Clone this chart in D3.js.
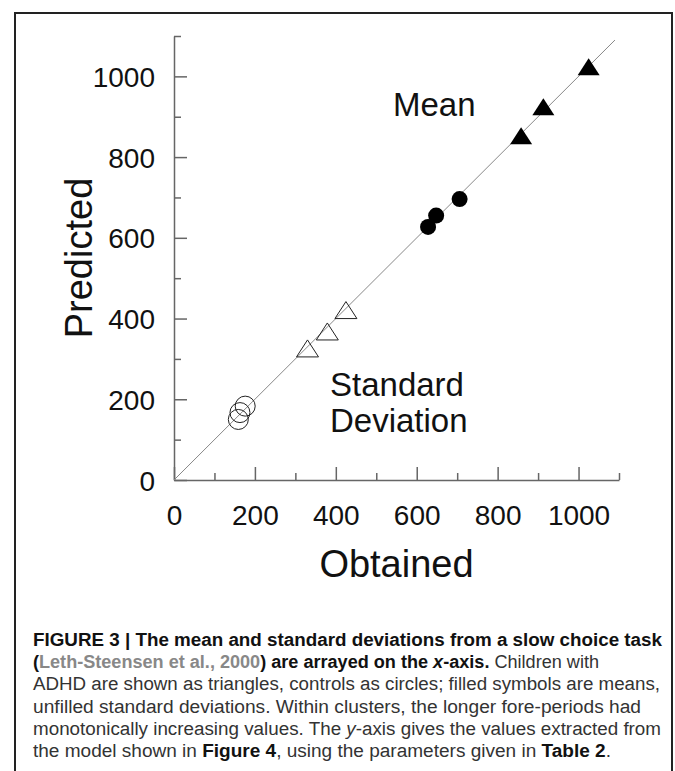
<!DOCTYPE html>
<html>
<head>
<meta charset="utf-8">
<script src="https://cdn.jsdelivr.net/npm/d3@7"></script>
<style>
  body { margin: 0; background: #fff; }
  svg { display: block; }
  .axis path, .axis line { stroke: #666; stroke-width: 1.5; }
  .axis text { font-family: "Liberation Sans", Arial, Helvetica, sans-serif; font-size: 28px; fill: #111; }
</style>
</head>
<body>
<script>
// values (ms)
var meanAdhdObt = [858, 913, 1025];
var meanAdhdPred = [853, 925, 1024];
var meanCtrlObt = [628, 648, 706];
var meanCtrlPred = [627, 655, 696];
var sdAdhdObt = [330, 379, 425];
var sdAdhdPred = [326, 368, 421];
var sdCtrlObt = [159, 163, 176];
var sdCtrlPred = [150, 167, 183];

var tickVals = d3.range(0, 1101, 100);
var idLine = [0, 1090];

var captionLines = [
  [["b", "FIGURE 3 | The mean and standard deviations from a slow choice task"]],
  [["b", "("], ["g", "Leth-Steensen et al., 2000"], ["b", ") are arrayed on the "], ["bi", "x"], ["b", "-axis."], ["n", " Children with"]],
  [["n", "ADHD are shown as triangles, controls as circles; filled symbols are means,"]],
  [["n", "unfilled standard deviations. Within clusters, the longer fore-periods had"]],
  [["n", "monotonically increasing values. The "], ["i", "y"], ["n", "-axis gives the values extracted from"]],
  [["n", "the model shown in "], ["b", "Figure 4"], ["n", ", using the parameters given in "], ["b", "Table 2"], ["n", "."]]
];
var captionWidths = [629, 566, 627, 608, 628, 578];

var W = 675, H = 771;
var svg = d3.select("body").append("svg").attr("width", W).attr("height", H);

// frame
svg.append("path")
  .attr("d", "M15," + H + "V13H672V" + H)
  .attr("fill", "none").attr("stroke", "#222").attr("stroke-width", 2);

var x = d3.scaleLinear().domain([0, 1100]).range([174, 619]);
var y = d3.scaleLinear().domain([0, 1100]).range([480, 36]);

function fmt(d) { return d % 200 == 0 ? d : ""; }

var gx = svg.append("g").attr("class", "axis").attr("transform", "translate(0,480)")
  .call(d3.axisBottom(x).tickValues(tickVals).tickSize(-13).tickSizeOuter(0).tickPadding(25).tickFormat(fmt));
gx.selectAll(".tick line").attr("y2", function(d) { return d % 200 == 0 ? -13 : -7; });

var gy = svg.append("g").attr("class", "axis").attr("transform", "translate(174,0)")
  .call(d3.axisLeft(y).tickValues(tickVals).tickSize(-13).tickSizeOuter(0).tickPadding(19).tickFormat(fmt));
gy.selectAll(".tick line").attr("x2", function(d) { return d % 200 == 0 ? 13 : 7; });
gy.selectAll(".tick text").attr("dy", "0.36em");

// identity line
svg.append("line")
  .attr("x1", x(idLine[0])).attr("y1", y(idLine[0]))
  .attr("x2", x(idLine[1])).attr("y2", y(idLine[1]))
  .attr("stroke", "#888").attr("stroke-width", 1);

function zip(a, b) { return a.map(function(v, i) { return [v, b[i]]; }); }
var tri = "M0,-8.5L11,8.5L-11,8.5Z";

svg.selectAll(".sdc").data(zip(sdCtrlObt, sdCtrlPred)).enter().append("circle")
  .attr("cx", function(d) { return x(d[0]); }).attr("cy", function(d) { return y(d[1]); })
  .attr("r", 10).attr("fill", "none").attr("stroke", "#222").attr("stroke-width", 1);

svg.selectAll(".sda").data(zip(sdAdhdObt, sdAdhdPred)).enter().append("path")
  .attr("d", tri)
  .attr("transform", function(d) { return "translate(" + x(d[0]) + "," + y(d[1]) + ")"; })
  .attr("fill", "none").attr("stroke", "#222").attr("stroke-width", 1);

svg.selectAll(".mc").data(zip(meanCtrlObt, meanCtrlPred)).enter().append("circle")
  .attr("cx", function(d) { return x(d[0]); }).attr("cy", function(d) { return y(d[1]); })
  .attr("r", 8).attr("fill", "#000");

svg.selectAll(".ma").data(zip(meanAdhdObt, meanAdhdPred)).enter().append("path")
  .attr("d", tri)
  .attr("transform", function(d) { return "translate(" + x(d[0]) + "," + y(d[1]) + ")"; })
  .attr("fill", "#000");

// labels
var lab = "font-family:'Liberation Sans',Arial,Helvetica,sans-serif;fill:#111;";
svg.append("text").attr("x", 393).attr("y", 116).attr("style", lab + "font-size:33px").text("Mean");
svg.append("text").attr("x", 330).attr("y", 396).attr("style", lab + "font-size:33px").text("Standard");
svg.append("text").attr("x", 330).attr("y", 432).attr("style", lab + "font-size:33px").text("Deviation");

svg.append("text").attr("x", 396.5).attr("y", 577).attr("text-anchor", "middle")
  .attr("style", lab + "font-size:38px").text("Obtained");
svg.append("text").attr("transform", "translate(92,258) rotate(-90)").attr("text-anchor", "middle")
  .attr("style", lab + "font-size:38px").text("Predicted");

// caption
var cap = svg.append("g");
captionLines.forEach(function(line, i) {
  var t = cap.append("text").attr("x", 33).attr("y", 646 + i * 22.2)
    .attr("textLength", captionWidths[i]).attr("lengthAdjust", "spacingAndGlyphs")
    .attr("style", "font-family:'Liberation Sans Narrow','Liberation Sans',Arial,sans-serif;font-size:18px;");
  line.forEach(function(p) {
    var s = t.append("tspan").text(p[1]);
    if (p[0] == "b" || p[0] == "bi") s.attr("font-weight", "bold").attr("fill", "#111");
    else if (p[0] == "g") s.attr("font-weight", "bold").attr("fill", "#888");
    else s.attr("fill", "#333");
    if (p[0] == "i" || p[0] == "bi") s.attr("font-style", "italic");
  });
});
</script>
</body>
</html>
